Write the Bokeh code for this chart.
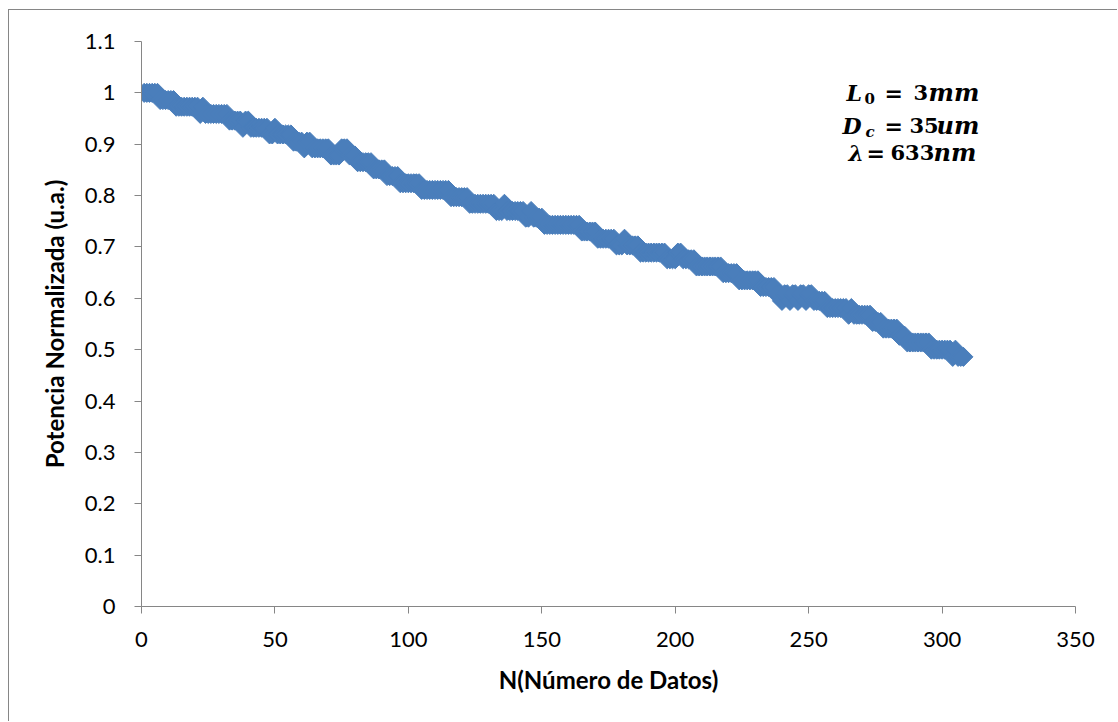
import numpy as np
from bokeh.plotting import figure
from bokeh.models import Range1d, FixedTicker, Label
from bokeh.embed import file_html
from bokeh.resources import INLINE

# ---------------- data ----------------
n_datos = list(range(1, 309))
potencia = [
    1.000, 1.000, 1.000, 1.000, 1.000, 1.000, 0.986, 0.986, 0.986, 0.986,
    0.986, 0.986, 0.973, 0.973, 0.973, 0.973, 0.973, 0.973, 0.973, 0.973,
    0.973, 0.959, 0.973, 0.959, 0.959, 0.959, 0.959, 0.959, 0.959, 0.959,
    0.959, 0.959, 0.946, 0.946, 0.946, 0.946, 0.946, 0.932, 0.946, 0.946,
    0.932, 0.932, 0.932, 0.932, 0.932, 0.932, 0.932, 0.919, 0.919, 0.932,
    0.919, 0.919, 0.919, 0.919, 0.919, 0.919, 0.905, 0.905, 0.905, 0.905,
    0.892, 0.905, 0.905, 0.892, 0.892, 0.892, 0.892, 0.892, 0.892, 0.892,
    0.878, 0.878, 0.878, 0.878, 0.892, 0.892, 0.892, 0.878, 0.878, 0.878,
    0.865, 0.865, 0.865, 0.865, 0.865, 0.865, 0.851, 0.851, 0.851, 0.851,
    0.851, 0.838, 0.838, 0.838, 0.838, 0.838, 0.824, 0.824, 0.824, 0.824,
    0.824, 0.824, 0.824, 0.824, 0.811, 0.811, 0.811, 0.811, 0.811, 0.811,
    0.811, 0.811, 0.811, 0.811, 0.811, 0.797, 0.797, 0.797, 0.797, 0.797,
    0.797, 0.797, 0.784, 0.784, 0.784, 0.784, 0.784, 0.784, 0.784, 0.784,
    0.784, 0.784, 0.770, 0.770, 0.770, 0.784, 0.770, 0.770, 0.770, 0.770,
    0.770, 0.770, 0.770, 0.757, 0.757, 0.770, 0.757, 0.757, 0.757, 0.757,
    0.743, 0.743, 0.743, 0.743, 0.743, 0.743, 0.743, 0.743, 0.743, 0.743,
    0.743, 0.743, 0.743, 0.743, 0.730, 0.730, 0.730, 0.730, 0.730, 0.730,
    0.716, 0.716, 0.716, 0.716, 0.716, 0.716, 0.716, 0.703, 0.703, 0.703,
    0.716, 0.703, 0.703, 0.703, 0.703, 0.703, 0.689, 0.689, 0.689, 0.689,
    0.689, 0.689, 0.689, 0.689, 0.689, 0.689, 0.676, 0.676, 0.676, 0.676,
    0.689, 0.689, 0.676, 0.676, 0.676, 0.676, 0.676, 0.662, 0.662, 0.662,
    0.662, 0.662, 0.662, 0.662, 0.662, 0.662, 0.662, 0.649, 0.649, 0.649,
    0.649, 0.649, 0.649, 0.635, 0.635, 0.635, 0.635, 0.635, 0.635, 0.635,
    0.635, 0.622, 0.622, 0.622, 0.622, 0.622, 0.622, 0.608, 0.608, 0.595,
    0.608, 0.608, 0.595, 0.608, 0.608, 0.595, 0.608, 0.608, 0.595, 0.608,
    0.608, 0.595, 0.595, 0.595, 0.595, 0.595, 0.581, 0.581, 0.581, 0.581,
    0.581, 0.581, 0.581, 0.581, 0.568, 0.581, 0.568, 0.568, 0.568, 0.568,
    0.568, 0.568, 0.568, 0.554, 0.554, 0.554, 0.554, 0.541, 0.541, 0.541,
    0.541, 0.541, 0.541, 0.527, 0.527, 0.527, 0.514, 0.514, 0.514, 0.514,
    0.514, 0.514, 0.514, 0.514, 0.514, 0.500, 0.500, 0.500, 0.500, 0.500,
    0.500, 0.500, 0.500, 0.486, 0.500, 0.486, 0.486, 0.486,
]
x_ticks = [0, 50, 100, 150, 200, 250, 300, 350]
x_tick_labels = ["0", "50", "100", "150", "200", "250", "300", "350"]
y_ticks = [0, 0.1, 0.2, 0.3, 0.4, 0.5, 0.6, 0.7, 0.8, 0.9, 1, 1.1]
y_tick_labels = ["0", "0.1", "0.2", "0.3", "0.4", "0.5", "0.6", "0.7",
                 "0.8", "0.9", "1", "1.1"]
x_title = "N(Número de Datos)"
y_title = "Potencia Normalizada (u.a.)"

# ---------------- figure ----------------
AXIS_GRAY = "#868686"
SERIES = "#4a7ebb"

p = figure(width=1109, height=712, output_backend="svg", toolbar_location=None,
           x_range=Range1d(0, 350), y_range=Range1d(0, 1.1),
           min_border_left=132, min_border_right=43,
           min_border_top=31, min_border_bottom=116,
           margin=(9, 0, 0, 8))
p.styles = {"border-left": "1px solid " + AXIS_GRAY, "border-top": "1px solid " + AXIS_GRAY}
p.background_fill_color = "white"
p.border_fill_color = "white"
p.outline_line_color = None
p.xgrid.visible = False
p.ygrid.visible = False

p.scatter(n_datos, potencia, marker="square", angle=np.pi / 4, size=13.5,
          fill_color=SERIES, line_color=SERIES, line_width=1)

for ax in (p.xaxis[0], p.yaxis[0]):
    ax.axis_line_color = AXIS_GRAY
    ax.major_tick_line_color = AXIS_GRAY
    ax.minor_tick_line_color = None
    ax.major_tick_out = 7
    ax.major_tick_in = 0
    ax.major_label_text_font = "Lato"
    ax.major_label_text_font_size = "22px"
    ax.major_label_text_color = "black"
    ax.axis_label_text_font = "Lato"
    ax.axis_label_text_font_size = "24px"
    ax.axis_label_text_font_style = "bold"
    ax.axis_label_text_color = "black"

p.xaxis.ticker = FixedTicker(ticks=x_ticks)
p.xaxis.major_label_overrides = dict(zip(x_ticks, x_tick_labels))
p.yaxis.ticker = FixedTicker(ticks=y_ticks)
p.yaxis.major_label_overrides = dict(zip(y_ticks, y_tick_labels))
p.xaxis.major_label_standoff = 18
p.yaxis.major_label_standoff = 19
p.xaxis.axis_label = x_title
p.yaxis.axis_label = y_title
p.xaxis.axis_label_standoff = 15
p.yaxis.axis_label_standoff = 13

# ---------------- annotation (L0, Dc, lambda) ----------------
def dx(px):
    return (px - 141) * 350 / 934

def dy(py):
    return (606 - py) * 1.1 / 565

pieces = [
    ("L", 846, 92, 22, "bold italic"), ("0", 864, 98, 15, "bold"),
    ("=", 884, 92, 22, "bold"), ("3", 913, 92, 21, "bold"),
    ("mm", 928, 92, 24, "bold italic"),
    ("D", 842, 125, 22, "bold italic"), ("c", 865, 131, 15, "bold italic"),
    ("=", 884, 125, 22, "bold"), ("35", 909, 125, 21, "bold"),
    ("um", 936, 125, 24, "bold italic"),
    ("λ", 848, 152, 22, "bold italic"), ("=", 866, 152, 22, "bold"),
    ("633", 890, 152, 21, "bold"),
    ("nm", 933, 152, 24, "bold italic"),
]
for txt, px, py, fs, style in pieces:
    p.add_layout(Label(x=dx(px), y=dy(py), text=txt, text_font="DejaVu Serif",
                       text_font_size=f"{fs}px", text_font_style=style,
                       text_color="black", text_align="left",
                       text_baseline="alphabetic"))

open("out.html", "w").write(file_html(p, INLINE))
